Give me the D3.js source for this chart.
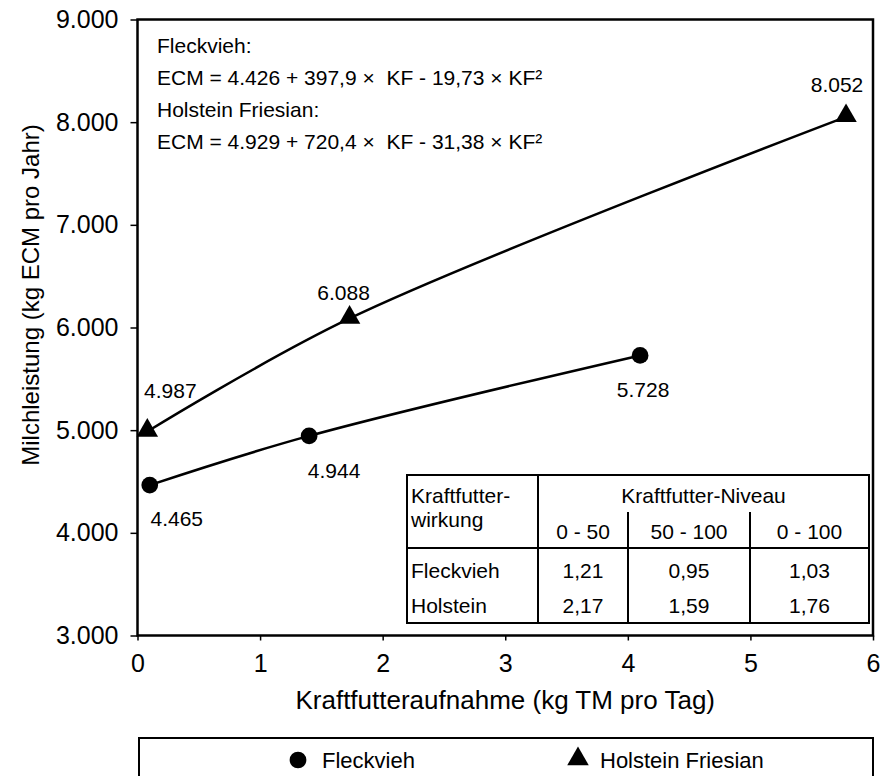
<!DOCTYPE html>
<html>
<head>
<meta charset="utf-8">
<script src="https://cdn.jsdelivr.net/npm/d3@7"></script>
<style>
  body { margin: 0; background: #fff; }
  text { font-family: "Liberation Sans", Arial, sans-serif; fill: #000; }
</style>
</head>
<body>
<svg id="chart" width="884" height="776"></svg>
<script>
// data
const fleckKF = [0.1, 1.4, 4.1];
const fleckECM = [4465, 4944, 5728];
const holsteinKF = [0.08, 1.73, 5.78];
const holsteinECM = [4987, 6088, 8052];

const yTicks = [3000, 4000, 5000, 6000, 7000, 8000, 9000];
const xTicks = [0, 1, 2, 3, 4, 5, 6];

const equationLines = [
  "Fleckvieh:",
  "ECM = 4.426 + 397,9 ×  KF - 19,73 × KF²",
  "Holstein Friesian:",
  "ECM = 4.929 + 720,4 ×  KF - 31,38 × KF²"
];

const tableRows = ["Fleckvieh", "Holstein"];
const tableCols = ["0 - 50", "50 - 100", "0 - 100"];
const fleckEffect = ["1,21", "0,95", "1,03"];
const holsteinEffect = ["2,17", "1,59", "1,76"];

// label offsets (px) from each point
const fleckLabelOff = [[27, 34], [25, 35], [3, 34]];
const holsteinLabelOff = [[23, -41], [-6, -26], [-9, -32]];

const svg = d3.select("#chart");
const margin = {left: 137.5, right: 11, top: 19.5, bottom: 140.5};
const W = 884, H = 776;

const x = d3.scaleLinear().domain([0, 6]).range([margin.left, W - margin.right]);
const y = d3.scaleLinear().domain([3000, 9000]).range([H - margin.bottom, margin.top]);

const de = d3.formatLocale({decimal: ",", thousands: ".", grouping: [3], currency: ["", "€"]});
const fmt = de.format(",");

// frame
svg.append("rect")
  .attr("x", x(0)).attr("y", y(9000))
  .attr("width", x(6) - x(0)).attr("height", y(3000) - y(9000))
  .attr("fill", "none").attr("stroke", "#000").attr("stroke-width", 2.5);

const yAxis = svg.append("g")
  .attr("transform", `translate(${x(0)},0)`)
  .call(d3.axisLeft(y).tickValues(yTicks).tickFormat(fmt).tickSize(7).tickPadding(12));
const xAxis = svg.append("g")
  .attr("transform", `translate(0,${y(3000)})`)
  .call(d3.axisBottom(x).tickValues(xTicks).tickFormat(d3.format("d")).tickSize(5).tickPadding(14));

[yAxis, xAxis].forEach(a => {
  a.select(".domain").remove();
  a.selectAll("line").attr("stroke", "#000").attr("stroke-width", 1.5);
  a.selectAll("text").style("font-size", "25px").attr("font-family", null);
});

// axis titles
svg.append("text")
  .attr("x", (x(0) + x(6)) / 2).attr("y", 709)
  .attr("text-anchor", "middle")
  .style("font-size", "26px")
  .text("Kraftfutteraufnahme (kg TM pro Tag)");

svg.append("text")
  .attr("transform", "translate(39,295) rotate(-90)")
  .attr("text-anchor", "middle")
  .style("font-size", "24px")
  .text("Milchleistung (kg ECM pro Jahr)");

// curves
const line = d3.line()
  .x(d => x(d[0])).y(d => y(d[1]))
  .curve(d3.curveCatmullRom.alpha(0.5));

const fleck = fleckKF.map((k, i) => [k, fleckECM[i]]);
const holst = holsteinKF.map((k, i) => [k, holsteinECM[i]]);

[fleck, holst].forEach(s => {
  svg.append("path").datum(s)
    .attr("d", line)
    .attr("fill", "none").attr("stroke", "#000").attr("stroke-width", 2.5);
});

const circle = d3.symbol().type(d3.symbolCircle).size(220);
const tri = d3.symbol().type(d3.symbolTriangle).size(200);

svg.append("g").selectAll("path").data(fleck).join("path")
  .attr("d", circle)
  .attr("transform", d => `translate(${x(d[0])},${y(d[1])})`);
svg.append("g").selectAll("path").data(holst).join("path")
  .attr("d", tri)
  .attr("transform", d => `translate(${x(d[0])},${y(d[1]) - 1})`);

// point labels
const labelSeries = [[fleck, fleckLabelOff], [holst, holsteinLabelOff]];
labelSeries.forEach(([s, off]) => {
  svg.append("g").selectAll("text").data(s).join("text")
    .attr("x", (d, i) => x(d[0]) + off[i][0])
    .attr("y", (d, i) => y(d[1]) + off[i][1])
    .attr("dy", "0.35em")
    .attr("text-anchor", "middle")
    .style("font-size", "21px")
    .text(d => fmt(d[1]));
});

// equations
svg.append("g").selectAll("text").data(equationLines).join("text")
  .attr("x", 157)
  .attr("y", (d, i) => 53 + i * 32)
  .style("font-size", "21px")
  .style("white-space", "pre")
  .text(d => d);

// table of Kraftfutterwirkung
const tb = {left: 407, right: 869, top: 475, head: 548, bottom: 623};
const colX = [538, 628, 750, tb.right];
const fs = "21px";
const tg = svg.append("g");
tg.append("rect")
  .attr("x", tb.left).attr("y", tb.top)
  .attr("width", tb.right - tb.left).attr("height", tb.bottom - tb.top)
  .attr("fill", "#fff").attr("stroke", "#000").attr("stroke-width", 2);
tg.append("line").attr("x1", tb.left).attr("x2", tb.right)
  .attr("y1", tb.head).attr("y2", tb.head);
tg.append("line").attr("x1", colX[0]).attr("x2", colX[0])
  .attr("y1", tb.top).attr("y2", tb.bottom);
[colX[1], colX[2]].forEach(cx => {
  tg.append("line").attr("x1", cx).attr("x2", cx)
    .attr("y1", 512).attr("y2", tb.bottom);
});
tg.selectAll("line").attr("stroke", "#000").attr("stroke-width", 2);

tg.append("text").attr("x", (colX[0] + tb.right) / 2).attr("y", 503)
  .attr("text-anchor", "middle").style("font-size", fs).text("Kraftfutter-Niveau");
tg.append("text").attr("x", 411).attr("y", 503).style("font-size", fs).text("Kraftfutter-");
tg.append("text").attr("x", 411).attr("y", 527).style("font-size", fs).text("wirkung");

tableCols.forEach((c, j) => {
  const cx = (colX[j] + colX[j + 1]) / 2;
  tg.append("text").attr("x", cx).attr("y", 539)
    .attr("text-anchor", "middle").style("font-size", fs).text(c);
});
[fleckEffect, holsteinEffect].forEach((row, i) => {
  const ry = 578 + i * 35;
  tg.append("text").attr("x", 411).attr("y", ry).style("font-size", fs).text(tableRows[i]);
  row.forEach((v, j) => {
    const cx = (colX[j] + colX[j + 1]) / 2;
    tg.append("text").attr("x", cx).attr("y", ry)
      .attr("text-anchor", "middle").style("font-size", fs).text(v);
  });
});

// legend
const lg = svg.append("g");
lg.append("rect")
  .attr("x", 139).attr("y", 738).attr("width", 734).attr("height", 60)
  .attr("fill", "#fff").attr("stroke", "#000").attr("stroke-width", 2);
lg.append("path").attr("d", circle).attr("transform", "translate(298,760)");
lg.append("text").attr("x", 322).attr("y", 768).style("font-size", "22px").text("Fleckvieh");
lg.append("path").attr("d", tri).attr("transform", "translate(578,759)");
lg.append("text").attr("x", 600).attr("y", 768).style("font-size", "22px").text("Holstein Friesian");
</script>
</body>
</html>
